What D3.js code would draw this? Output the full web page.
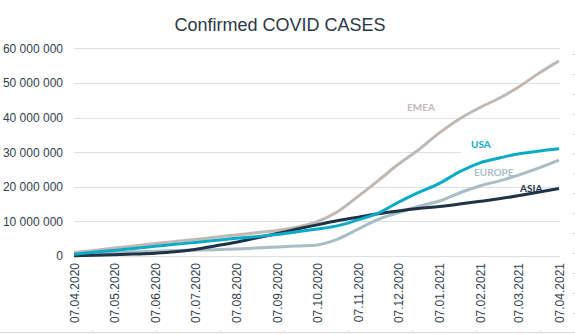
<!DOCTYPE html>
<html>
<head>
<meta charset="utf-8">
<script src="https://cdn.jsdelivr.net/npm/d3@7/dist/d3.min.js"></script>
<style>
  html, body { margin: 0; padding: 0; background: #ffffff; }
  svg { display: block; }
</style>
</head>
<body>
<svg id="chart" width="575" height="335"></svg>
<script>
// ---- data (values in millions of confirmed cases) ----
const dates = ["2020-04-07","2020-04-22","2020-05-07","2020-05-22","2020-06-07","2020-06-22",
  "2020-07-07","2020-07-22","2020-08-07","2020-08-22","2020-09-07","2020-09-22",
  "2020-10-07","2020-10-22","2020-11-07","2020-11-22","2020-12-07","2020-12-22",
  "2021-01-07","2021-01-22","2021-02-07","2021-02-22","2021-03-07","2021-03-22","2021-04-07"];
const emea   = [1.0,1.6,2.3,2.9,3.6,4.2,4.8,5.4,6.1,6.7,7.4,8.3,9.9,12.7,17.3,21.8,26.5,30.6,35.6,39.6,43.0,45.8,48.7,52.6,56.4];
const usa    = [0.5,1.1,1.6,2.2,2.8,3.4,3.9,4.5,5.1,5.6,6.2,7.0,7.8,8.7,10.5,12.4,15.5,18.3,21.0,24.3,27.0,28.4,29.5,30.3,31.0];
const europe = [0.3,0.6,0.9,1.2,1.4,1.6,1.7,1.8,2.0,2.3,2.6,2.9,3.2,4.8,7.8,10.6,12.5,14.3,15.9,18.2,20.3,21.8,23.3,25.3,27.7];
const asia   = [0.1,0.2,0.35,0.55,0.8,1.2,1.9,2.9,4.0,5.2,6.5,7.8,9.0,10.2,11.2,12.2,13.0,13.7,14.3,15.0,15.8,16.6,17.4,18.4,19.5];
const seriesNames = ["EMEA","USA","EUROPE","ASIA"];
const xTickLabels = ["07.04.2020","07.05.2020","07.06.2020","07.07.2020","07.08.2020","07.09.2020",
  "07.10.2020","07.11.2020","07.12.2020","07.01.2021","07.02.2021","07.03.2021","07.04.2021"];
const yTicks = [0,10e6,20e6,30e6,40e6,50e6,60e6];
const title = "Confirmed COVID CASES";

// ---- styles ----
const colors = { EMEA: "#c1b8b4", USA: "#0babc7", EUROPE: "#a8bdc5", ASIA: "#1f3347" };

const svg = d3.select("#chart");
const parse = d3.timeParse("%Y-%m-%d");
const x = d3.scaleTime().domain([parse("2020-04-07"), parse("2021-04-07")]).range([74, 559]);
const y = d3.scaleLinear().domain([0, 60e6]).range([256, 48.4]);

// title
svg.append("text").attr("x", 280).attr("y", 31).attr("text-anchor", "middle")
  .attr("font-family", "Liberation Sans, Arial, sans-serif").attr("font-size", 18)
  .attr("fill", "#2a3845").text(title);

// gridlines
svg.append("g").selectAll("line").data(yTicks).join("line")
  .attr("x1", 74).attr("x2", 560)
  .attr("y1", d => Math.round(y(d)) + 0.5).attr("y2", d => Math.round(y(d)) + 0.5)
  .attr("stroke", "#d9e2e9").attr("stroke-width", 1);

// y axis labels
const fmt = d => d3.format(",")(d).replace(/,/g, " ");
const yAxis = d3.axisLeft(y).tickValues(yTicks).tickFormat(fmt).tickSize(0).tickPadding(0);
const gy = svg.append("g").attr("transform", "translate(63,0)").call(yAxis);
gy.select(".domain").remove();
gy.selectAll("text").attr("font-family", "Liberation Sans, Arial, sans-serif")
  .attr("font-size", 12).attr("fill", "#323f4e");

// white box behind USA label (hides part of a gridline as in original)
const rows = dates.map((d, i) => ({ date: parse(d), EMEA: emea[i] * 1e6, USA: usa[i] * 1e6, EUROPE: europe[i] * 1e6, ASIA: asia[i] * 1e6 }));
svg.append("rect").attr("x", 461).attr("y", y(31e6)).attr("width", 100).attr("height", 8).attr("fill", "#fff");

// x axis labels
const monthDates = xTickLabels.map(s => { const p = s.split("."); return parse(p[2] + "-" + p[1] + "-" + p[0]); });
const xAxis = d3.axisBottom(x).tickValues(monthDates).tickFormat((d, i) => xTickLabels[i]).tickSize(0);
const gx = svg.append("g").attr("transform", "translate(0,263)").call(xAxis);
gx.select(".domain").remove();
gx.selectAll("text")
  .attr("font-family", "Liberation Sans, Arial, sans-serif").attr("font-size", 12).attr("fill", "#323f4e")
  .attr("text-anchor", "end").attr("transform", "rotate(-90)")
  .attr("x", 0).attr("y", 0).attr("dx", 0).attr("dy", "0.35em");

// bottom faint frame line with ticks
svg.append("line").attr("x1", 0).attr("x2", 575).attr("y1", 332.5).attr("y2", 332.5).attr("stroke", "#dcdcdc");
svg.append("g").selectAll("line").data(d3.range(8)).join("line")
  .attr("x1", d => 92.5 + d * 64).attr("x2", d => 92.5 + d * 64).attr("y1", 330).attr("y2", 333).attr("stroke", "#dcdcdc");
// right-edge dotted marks
svg.append("g").selectAll("rect").data(d3.range(14)).join("rect")
  .attr("x", 573).attr("y", d => 54 + d * 19.9).attr("width", 2).attr("height", 1).attr("fill", "#c8c8c8");

// lines
const order = ["EMEA", "EUROPE", "ASIA", "USA"];
order.forEach(name => {
  const line = d3.line().x(d => x(d.date)).y(d => y(d[name])).curve(d3.curveMonotoneX);
  svg.append("path").datum(rows).attr("d", line).attr("fill", "none")
    .attr("stroke", colors[name]).attr("stroke-width", 3).attr("stroke-linejoin", "round");
});

// series labels
const labelPos = { EMEA: [407, 111], USA: [471, 148], EUROPE: [474, 176], ASIA: [520, 192] };
seriesNames.forEach(name => {
  svg.append("text").attr("x", labelPos[name][0]).attr("y", labelPos[name][1])
    .attr("font-family", "Lato, sans-serif").attr("font-size", 10).attr("font-weight", 700)
    .attr("fill", colors[name]).text(name);
});
</script>
</body>
</html>
